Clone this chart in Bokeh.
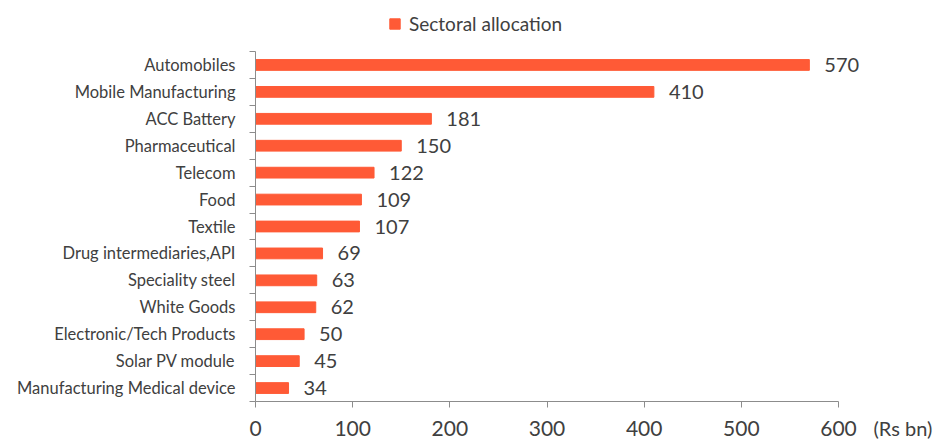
from bokeh.plotting import figure
from bokeh.models import (Range1d, FixedTicker, ColumnDataSource, LabelSet, Label,
                          Legend, LegendItem)
from bokeh.core.properties import value
from bokeh.embed import file_html
from bokeh.resources import INLINE

categories = ["Automobiles", "Mobile Manufacturing", "ACC Battery", "Pharmaceutical",
              "Telecom", "Food", "Textile", "Drug intermediaries,API", "Speciality steel",
              "White Goods", "Electronic/Tech Products", "Solar PV module",
              "Manufacturing Medical device"]
values = [570, 410, 181, 150, 122, 109, 107, 69, 63, 62, 50, 45, 34]
x_ticks = [0, 100, 200, 300, 400, 500, 600]
series_name = "Sectoral allocation"
unit_label = "(Rs bn)"

FONT = "Lato"
TXT = "#404040"
AX = "#8c8c8c"
BAR = "#FF5A36"

W, H = 951, 441
# pixel layout (canvas coords)
AXIS_L, AXIS_R = 255, 838      # x axis spans 0..600
AXIS_T, AXIS_B = 51, 401       # category block
FRAME_R = 871
X_MAX = max(x_ticks)
n = len(categories)
x_end = X_MAX * (FRAME_R - AXIS_L) / (AXIS_R - AXIS_L)
band = (AXIS_B - AXIS_T) / n
y_top = -0.5 - AXIS_T / band

idx = list(range(n))
src = ColumnDataSource(dict(y=idx, v=values, lab=[str(v) for v in values]))

p = figure(width=W, height=H, output_backend="svg", toolbar_location=None,
           x_range=Range1d(0, x_end), y_range=Range1d(n - 0.5, y_top),
           min_border_left=AXIS_L, min_border_right=W - FRAME_R, min_border_top=0,
           min_border_bottom=H - AXIS_B)
p.outline_line_color = None
p.grid.visible = False

r = p.hbar(y="y", right="v", left=0, height=0.4, color=BAR, source=src)

# x axis
xa = p.xaxis[0]
xa.ticker = FixedTicker(ticks=x_ticks)
xa.bounds = (0, X_MAX)
xa.axis_line_color = AX
xa.major_tick_line_color = AX
xa.major_tick_out = 6
xa.major_tick_in = 0
xa.minor_tick_line_color = None
xa.major_label_text_font = FONT
xa.major_label_text_font_size = "21px"
xa.major_label_text_color = TXT
xa.major_label_standoff = 13

# y axis
ya = p.yaxis[0]
ya.ticker = FixedTicker(ticks=idx, minor_ticks=[i - 0.5 for i in idx] + [n - 0.5])
ya.bounds = (-0.5, n - 0.5)
ya.major_label_overrides = {i: c for i, c in zip(idx, categories)}
ya.axis_line_color = AX
ya.major_tick_line_color = None
ya.major_tick_out = 0
ya.major_tick_in = 0
ya.minor_tick_line_color = AX
ya.minor_tick_out = 6
ya.minor_tick_in = 0
ya.major_label_text_font = FONT
ya.major_label_text_font_size = "16.5px"
ya.major_label_text_color = TXT
ya.major_label_standoff = 14

labels = LabelSet(x="v", y="y", text="lab", source=src, x_offset=15,
                  text_baseline="middle", text_font=value(FONT),
                  text_font_size=value("20px"), text_color=value(TXT))
p.add_layout(labels)

p.add_layout(Label(x=X_MAX, y=n - 0.5, text=unit_label, x_offset=35,
                   y_offset=-26, text_baseline="middle", text_font=FONT,
                   text_font_size="20px", text_color=TXT), "right")

legend = Legend(items=[LegendItem(label=series_name, renderers=[r])],
                orientation="horizontal", location=(133, 366),
                border_line_color=None, background_fill_alpha=0,
                glyph_width=13, glyph_height=13, label_standoff=8,
                padding=2, margin=0,
                label_text_font=FONT, label_text_font_size="19px",
                label_text_color=TXT)
p.add_layout(legend)

open("out.html", "w").write(file_html(p, INLINE))
